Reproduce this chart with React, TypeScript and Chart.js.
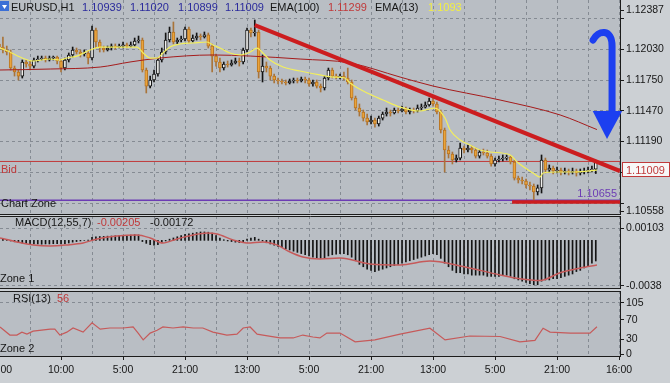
import React, { useEffect, useRef } from "react";
import { Chart, registerables } from "chart.js";

Chart.register(...registerables);

// ---------------- data ----------------
const SYMBOL = "EURUSD,H1";

const OPEN = [
  1.12078, 1.1205, 1.12023, 1.12005, 1.11859, 1.11823, 1.11786, 1.11914, 1.11896, 1.11877,
  1.11932, 1.11941, 1.1195, 1.11932, 1.1195, 1.11959, 1.11923, 1.11859, 1.11932, 1.11978,
  1.12023, 1.12005, 1.11987, 1.11996, 1.1195, 1.12205, 1.12096, 1.12041, 1.12023, 1.12041,
  1.12059, 1.1205, 1.12059, 1.12069, 1.12059, 1.12069, 1.12105, 1.12114, 1.11841, 1.11695,
  1.1175, 1.11805, 1.11932, 1.12005, 1.12114, 1.12187, 1.12096, 1.12114, 1.12123, 1.12214,
  1.12105, 1.12132, 1.1215, 1.12141, 1.1216, 1.12059, 1.11968, 1.11914, 1.11859, 1.11896,
  1.11887, 1.11905, 1.11923, 1.11914, 1.12023, 1.12205, 1.12178, 1.12187, 1.11823, 1.11877,
  1.11859, 1.11786, 1.1175, 1.11741, 1.11732, 1.11723, 1.11741, 1.1175, 1.11741, 1.11759,
  1.1175, 1.11714, 1.11732, 1.11695, 1.11677, 1.11768, 1.11841, 1.11786, 1.11777, 1.11786,
  1.11768, 1.11732, 1.11586, 1.11495, 1.11459, 1.11404, 1.11368, 1.11386, 1.1135, 1.11404,
  1.11441, 1.11459, 1.1145, 1.11477, 1.11468, 1.11486, 1.11459, 1.11477, 1.11468, 1.11495,
  1.11504, 1.11523, 1.11559, 1.11532, 1.11459, 1.11295, 1.11113, 1.11077, 1.11022, 1.1104,
  1.11131, 1.11113, 1.11131, 1.11113, 1.11058, 1.11095, 1.11086, 1.11058, 1.10986, 1.11022,
  1.11031, 1.1104, 1.11049, 1.11004, 1.10858, 1.1084, 1.10831, 1.10795, 1.10786, 1.10731,
  1.10768, 1.11022, 1.10931, 1.10949, 1.10922, 1.10931, 1.10913, 1.10922, 1.10913, 1.10922,
  1.10904, 1.10913, 1.10922, 1.10931, 1.10939,
];
const HIGH = [
  1.12132, 1.12141, 1.12059, 1.12023, 1.11877, 1.11841, 1.11932, 1.11932, 1.11923, 1.1195,
  1.11968, 1.11968, 1.11968, 1.11968, 1.11968, 1.11968, 1.11941, 1.1195, 1.11996, 1.1205,
  1.12041, 1.12023, 1.12023, 1.12014, 1.12241, 1.12223, 1.12114, 1.12059, 1.12059, 1.12078,
  1.12078, 1.12078, 1.12096, 1.12087, 1.12096, 1.12132, 1.1215, 1.12132, 1.11859, 1.11786,
  1.11841, 1.1195, 1.12041, 1.12178, 1.12232, 1.12278, 1.12132, 1.1215, 1.12232, 1.12232,
  1.1216, 1.12178, 1.12169, 1.12187, 1.12178, 1.12078, 1.11987, 1.1195, 1.11914, 1.11923,
  1.11932, 1.1195, 1.1195, 1.12041, 1.12223, 1.12223, 1.12296, 1.12205, 1.11978, 1.11914,
  1.11877, 1.11805, 1.11768, 1.11759, 1.1175, 1.11759, 1.11768, 1.11768, 1.11777, 1.11777,
  1.11768, 1.1175, 1.1175, 1.11714, 1.11786, 1.11859, 1.11859, 1.11805, 1.11805, 1.11823,
  1.11859, 1.1175, 1.11604, 1.11532, 1.11477, 1.11441, 1.11422, 1.11404, 1.11422, 1.11459,
  1.11495, 1.11477, 1.11495, 1.11495, 1.11513, 1.11504, 1.11495, 1.11495, 1.11523, 1.11532,
  1.1155, 1.11586, 1.11595, 1.1155, 1.11477, 1.11313, 1.11149, 1.11095, 1.11068, 1.11177,
  1.11149, 1.11159, 1.11149, 1.11131, 1.11113, 1.11122, 1.11113, 1.11077, 1.1104, 1.11058,
  1.11068, 1.11068, 1.11058, 1.11022, 1.10876, 1.10867, 1.10849, 1.10822, 1.10804, 1.10795,
  1.11068, 1.1104, 1.10977, 1.10967, 1.10958, 1.10949, 1.10949, 1.1094, 1.10949, 1.1094,
  1.1094, 1.10949, 1.10958, 1.10967, 1.1102,
];
const LOW = [
  1.12023, 1.11996, 1.11978, 1.11841, 1.11786, 1.1175, 1.11768, 1.11868, 1.11841, 1.11859,
  1.11914, 1.11932, 1.11914, 1.11923, 1.11932, 1.11896, 1.11823, 1.11841, 1.11914, 1.11959,
  1.11987, 1.11959, 1.11968, 1.11896, 1.11932, 1.12041, 1.12005, 1.12005, 1.12014, 1.12023,
  1.12032, 1.12041, 1.12041, 1.12041, 1.1205, 1.12059, 1.12087, 1.11823, 1.11632, 1.11677,
  1.11732, 1.11786, 1.11914, 1.11987, 1.12096, 1.12078, 1.12078, 1.12096, 1.12105, 1.12087,
  1.12096, 1.12114, 1.12114, 1.12132, 1.12041, 1.11823, 1.11877, 1.11823, 1.11841, 1.11868,
  1.11877, 1.11896, 1.11877, 1.11896, 1.12005, 1.12141, 1.1215, 1.11768, 1.11732, 1.11823,
  1.1175, 1.11723, 1.11714, 1.11714, 1.11705, 1.11714, 1.11723, 1.11723, 1.11732, 1.11723,
  1.11695, 1.11695, 1.11677, 1.11641, 1.11659, 1.1175, 1.11768, 1.11759, 1.11759, 1.1175,
  1.11714, 1.11568, 1.11477, 1.11422, 1.11377, 1.11341, 1.1135, 1.11322, 1.11331, 1.11386,
  1.11422, 1.11422, 1.11441, 1.1145, 1.11459, 1.11441, 1.11441, 1.1145, 1.11459, 1.11477,
  1.11495, 1.11513, 1.11513, 1.11441, 1.11268, 1.10913, 1.1104, 1.10986, 1.11004, 1.11022,
  1.11086, 1.11095, 1.11086, 1.1104, 1.1104, 1.11068, 1.1104, 1.10967, 1.10967, 1.11004,
  1.11013, 1.11022, 1.10986, 1.1084, 1.10813, 1.10804, 1.10768, 1.1075, 1.10658, 1.10704,
  1.10722, 1.10904, 1.10913, 1.10895, 1.10904, 1.10886, 1.10895, 1.10886, 1.10895, 1.10876,
  1.10886, 1.10895, 1.10904, 1.10913, 1.10899,
];
const CLOSE = [
  1.1205, 1.12023, 1.12005, 1.11859, 1.11823, 1.11786, 1.11914, 1.11896, 1.11877, 1.11932,
  1.11941, 1.1195, 1.11932, 1.1195, 1.11959, 1.11923, 1.11859, 1.11932, 1.11978, 1.12023,
  1.12005, 1.11987, 1.11996, 1.1195, 1.12205, 1.12096, 1.12041, 1.12023, 1.12041, 1.12059,
  1.1205, 1.12059, 1.12069, 1.12059, 1.12069, 1.12105, 1.12114, 1.11841, 1.11695, 1.1175,
  1.11805, 1.11932, 1.12005, 1.12114, 1.12187, 1.12096, 1.12114, 1.12123, 1.12214, 1.12105,
  1.12132, 1.1215, 1.12141, 1.1216, 1.12059, 1.11968, 1.11914, 1.11859, 1.11896, 1.11887,
  1.11905, 1.11923, 1.11914, 1.12023, 1.12205, 1.12178, 1.12187, 1.11823, 1.11877, 1.11859,
  1.11786, 1.1175, 1.11741, 1.11732, 1.11723, 1.11741, 1.1175, 1.11741, 1.11759, 1.1175,
  1.11714, 1.11732, 1.11695, 1.11677, 1.11768, 1.11841, 1.11786, 1.11777, 1.11786, 1.11768,
  1.11732, 1.11586, 1.11495, 1.11459, 1.11404, 1.11368, 1.11386, 1.1135, 1.11404, 1.11441,
  1.11459, 1.1145, 1.11477, 1.11468, 1.11486, 1.11459, 1.11477, 1.11468, 1.11495, 1.11504,
  1.11523, 1.11559, 1.11532, 1.11459, 1.11295, 1.11113, 1.11077, 1.11022, 1.1104, 1.11131,
  1.11113, 1.11131, 1.11113, 1.11058, 1.11095, 1.11086, 1.11058, 1.10986, 1.11022, 1.11031,
  1.1104, 1.11049, 1.11004, 1.10858, 1.1084, 1.10831, 1.10795, 1.10786, 1.10731, 1.10768,
  1.11022, 1.10931, 1.10949, 1.10922, 1.10931, 1.10913, 1.10922, 1.10913, 1.10922, 1.10904,
  1.10913, 1.10922, 1.10931, 1.1094, 1.11009,
];

// indicator readings: [candle position, value]
const EMA13: [number, number][] = [
  [0.25, 1.12041], [2.8, 1.12005], [5.4, 1.11959], [8.8, 1.11923], [13.2, 1.11941], [15.7, 1.11932],
  [17.5, 1.1195], [20.1, 1.11968], [23.5, 1.12023], [26.1, 1.1205], [32.5, 1.1205], [35.6, 1.1205],
  [37.2, 1.11996], [39, 1.1195], [40.8, 1.1195], [42.3, 1.11996], [44.1, 1.1205], [46.7, 1.12078],
  [50.1, 1.12087], [53.7, 1.12096], [55.2, 1.12069], [57, 1.12041], [59.6, 1.11996], [62.2, 1.11978],
  [64.8, 1.12005], [66.6, 1.12041], [68.1, 1.11996], [69.9, 1.11932], [73.3, 1.11868], [77.7, 1.11832],
  [82.8, 1.11796], [86.2, 1.11777], [89.3, 1.11768], [90.6, 1.11723], [95, 1.11632], [99.1, 1.11568],
  [103.5, 1.11504], [108.6, 1.11468], [112.5, 1.11495], [115.1, 1.11404], [116.4, 1.11295], [119, 1.11204],
  [121.5, 1.11159], [124.1, 1.11113], [126.7, 1.11095], [131.9, 1.11068], [133.7, 1.11004], [137.8, 1.10904],
  [139.6, 1.10867], [140.4, 1.10904], [144, 1.10913], [148.6, 1.10913], [154.3, 1.1093],
];
const EMA100: [number, number][] = [
  [0.25, 1.11841], [13.2, 1.1185], [26.1, 1.11868], [33.8, 1.11914], [41.5, 1.1195], [55.2, 1.11978],
  [64.8, 1.11968], [77.7, 1.11941], [90.6, 1.11905], [103.5, 1.11777], [112, 1.11695], [129.3, 1.11568],
  [144.8, 1.11432], [154.3, 1.11299],
];
const MACD_HIST = [
  0.00012, 0.00008, 0.00004, -0.00005, -0.00012, -0.00018, -0.00022, -0.00025, -0.00028, -0.0003,
  -0.0003, -0.00032, -0.0003, -0.0003, -0.00028, -0.00027, -0.0003, -0.00028, -0.00022, -0.00015,
  -0.0001, -0.00005, 0, 0.00003, 0.00025, 0.0003, 0.00032, 0.00033, 0.00035, 0.00036,
  0.00038, 0.0004, 0.0004, 0.00042, 0.00044, 0.00047, 0.00045, -0.0001, -0.00025, -0.00035,
  -0.0004, -0.00035, -0.0002, -0.00005, 0.0001, 0.0002, 0.0003, 0.0004, 0.0005, 0.00055,
  0.0006, 0.00065, 0.0007, 0.0007, 0.00068, 0.0006, 0.0004, 0.0002, 0.00005, -0.00005,
  -0.0001, -0.00015, -0.00018, -0.0001, 0.0001, 0.0002, 0.00025, 0.0001, -0.00005, -0.0002,
  -0.0003, -0.0004, -0.0005, -0.0006, -0.0007, -0.0008, -0.0009, -0.001, -0.0011, -0.0012,
  -0.0013, -0.0014, -0.00145, -0.0015, -0.00145, -0.0013, -0.0012, -0.00115, -0.0011, -0.0011,
  -0.0012, -0.0014, -0.0017, -0.002, -0.0022, -0.0024, -0.0025, -0.0026, -0.0025, -0.0024,
  -0.0023, -0.0022, -0.0021, -0.002, -0.0019, -0.0018, -0.0017, -0.0016, -0.0015, -0.0014,
  -0.0013, -0.0012, -0.0011, -0.0012, -0.0015, -0.0019, -0.0022, -0.0025, -0.0027, -0.0027,
  -0.0028, -0.0028, -0.0029, -0.0029, -0.0029, -0.0029, -0.003, -0.003, -0.003, -0.003,
  -0.0029, -0.0029, -0.003, -0.0032, -0.0033, -0.0034, -0.0035, -0.0036, -0.0037, -0.0037,
  -0.0034, -0.0033, -0.0033, -0.0032, -0.0032, -0.0031, -0.003, -0.0029, -0.0028, -0.0026,
  -0.0025, -0.0023, -0.0021, -0.0019, -0.00172,
];
const MACD_LINE: [number, number][] = [
  [0.25, 0.0002], [4.6, -0.00013], [8.8, -0.00038], [13.2, -0.00047], [17.5, -0.00038], [21.7, -0.00022],
  [25.3, 0.00012], [30.4, 0.00037], [35.6, 0.00045], [39, 0.0002], [42.3, -0.00022], [45.9, 0.00012],
  [50.1, 0.00045], [53.7, 0.00062], [56.3, 0.00053], [60.4, 0.00003], [64, -0.00022], [68.1, -0.00013],
  [71.7, -0.00038], [75.1, -0.00097], [78.4, -0.00138], [82.8, -0.00155], [88, -0.00147], [95.7, -0.00197],
  [103.5, -0.00205], [111.2, -0.00172], [119, -0.00213], [129.3, -0.00288], [134.4, -0.0032], [139.6, -0.00335],
  [144.8, -0.0027], [150, -0.0023], [154.3, -0.00205],
];
const RSI: [number, number][] = [
  [0.25, 55.6], [2.8, 39], [4.6, 39], [5.9, 45], [7.2, 41], [8.8, 47], [13.2, 51], [14.4, 51], [15.7, 39],
  [17.5, 45], [19.1, 53.5], [21.7, 45], [24, 64], [26.1, 51], [28.6, 53.5], [32, 53.5], [34.6, 55.6],
  [35.9, 43], [37.2, 29], [39, 43], [40.8, 49], [42.3, 55.6], [44.9, 53.5], [47.5, 55.6], [50.1, 53.5],
  [52.6, 53.5], [55.2, 45], [58.8, 39], [61.4, 41], [63, 53.5], [64.8, 55.6], [66.6, 41], [68.1, 39],
  [72.5, 33], [75.9, 33], [78.4, 39], [81, 35], [82.8, 33], [84.6, 43], [88, 43], [91.9, 25], [97, 29],
  [103.5, 41], [111.2, 53], [115.1, 29], [121.5, 37], [129.3, 36], [134.4, 25], [138.3, 28], [140.4, 53],
  [142.2, 45], [147.4, 43], [152.5, 43], [154.3, 56],
];

const BID = 1.11009;
const ZONE_LEVEL = 1.10655;
const TRENDLINE: [number, number][] = [[66, 1.1225], [160.25, 1.10922]];
const SUPPORT: [number, number][] = [[132.4, 1.1064], [160.25, 1.1064]];

const X_LABELS = ["18:00", "10:00", "5:00", "21:00", "13:00", "5:00", "21:00", "13:00", "5:00", "21:00", "16:00"];
const PRICE_TICKS = [1.12387, 1.1231, 1.1203, 1.1175, 1.1147, 1.1119, 1.1091, 1.1063, 1.10558];
const PRICE_LABELS = ["1.12387", "", "1.12030", "1.11750", "1.11470", "1.11190", "", "", "1.10558"];
const PRICE_GRID = [1.1231, 1.1203, 1.1175, 1.1147, 1.1119, 1.1091, 1.1063];
const MACD_TICKS = [0.00103, -0.0038];
const MACD_LABELS = ["0.00103", "-0.0038"];
const RSI_TICKS = [105, 70, 30, 0];
const RSI_LABELS = ["105", "70", "30", "0"];
const RSI_GRID = [105];

// arrow annotation in (candle position, price)
const ARROW_STROKE: [number, number][] = [[153.3, 1.12114], [154.6, 1.12205], [158.2, 1.12223], [158.2, 1.12059], [158.2, 1.11459]];
const ARROW_HEAD: [number, number][] = [[153.2, 1.11468], [160.8, 1.11468], [156.9, 1.11213]];

// ---------------- layout / style ----------------
const X_MIN = 0.25;
const X_MAX = 160.25;
const X_GRID_STEP = 8;
const X_LABEL_STEP = 16;
const FONT = '"Liberation Sans", Arial, sans-serif';
const PAGE_BG = "#ccd0d4";
const PLOT_BG = "#b9bec4";
const GRID = "#858b93";
const FRAME = "#1c1c1c";
const TEXT = "#161616";
const BLUE_TXT = "#2a2a9c";
const RED_TXT = "#c0393a";
const BID_COLOR = "#c0393a";
const ZONE_COLOR = "#6c3cb4";

Chart.defaults.font.family = FONT;

const xy = (pts: [number, number][]) => pts.map(([x, y]) => ({ x, y }));

function xAxis(labels: boolean) {
  return {
    type: "linear",
    min: X_MIN,
    max: X_MAX,
    offset: false,
    afterBuildTicks: (s: any) => {
      const t: any[] = [];
      for (let v = 0; v <= X_MAX; v += X_GRID_STEP) t.push({ value: v });
      s.ticks = t;
    },
    afterFit: (s: any) => {
      s.height = labels ? 27 : 0;
      s.paddingLeft = 0;
      s.paddingRight = 0;
    },
    grid: {
      color: GRID,
      lineWidth: 1,
      offset: false,
      drawTicks: labels,
      tickLength: 4,
      tickColor: (c: any) => (c.tick && c.tick.value % X_LABEL_STEP === 0 ? FRAME : "transparent"),
    },
    border: { display: false, dash: [3, 3] },
    ticks: {
      display: labels,
      autoSkip: false,
      maxRotation: 0,
      minRotation: 0,
      padding: 4,
      color: TEXT,
      font: { size: 10.5 },
      callback: (v: number) => (v % X_LABEL_STEP === 0 ? X_LABELS[v / X_LABEL_STEP] : ""),
    },
  };
}

function yAxis(min: number, max: number, ticks: number[], labels: string[], gridVals: number[]) {
  return {
    type: "linear",
    position: "right",
    min,
    max,
    afterBuildTicks: (s: any) => {
      s.ticks = ticks.map((v) => ({ value: v }));
    },
    afterFit: (s: any) => {
      s.width = 50;
      s.paddingTop = 0;
      s.paddingBottom = 0;
    },
    grid: {
      color: (c: any) => (c.tick && gridVals.includes(c.tick.value) ? GRID : "transparent"),
      drawTicks: true,
      tickLength: 4,
      tickColor: FRAME,
    },
    border: { display: false, dash: [3, 3] },
    ticks: {
      autoSkip: false,
      padding: 2,
      color: TEXT,
      font: { size: 10.5 },
      callback: (v: number) => {
        const k = ticks.indexOf(v);
        return k >= 0 ? labels[k] : "";
      },
    },
  };
}

type Txt = { t: string; x: number; y: number; c: string };

function panelPlugin(top: boolean, texts: Txt[], extra?: (chart: any) => void) {
  return {
    id: "panel",
    beforeDraw(chart: any) {
      const { ctx, chartArea: a } = chart;
      ctx.save();
      ctx.fillStyle = PLOT_BG;
      ctx.fillRect(a.left, a.top, a.right - a.left, a.bottom - a.top);
      ctx.restore();
    },
    afterDraw(chart: any) {
      const { ctx, chartArea: a } = chart;
      ctx.save();
      ctx.strokeStyle = FRAME;
      ctx.lineWidth = 1;
      ctx.beginPath();
      if (top) {
        ctx.moveTo(a.left, a.top + 0.5);
        ctx.lineTo(a.right + 1, a.top + 0.5);
      }
      ctx.moveTo(a.left, a.bottom + 0.5);
      ctx.lineTo(a.right + 1, a.bottom + 0.5);
      ctx.moveTo(a.right + 0.5, a.top);
      ctx.lineTo(a.right + 0.5, a.bottom + 1);
      ctx.stroke();
      ctx.font = `11px ${FONT}`;
      ctx.textBaseline = "alphabetic";
      ctx.textAlign = "left";
      texts.forEach((t) => {
        ctx.fillStyle = t.c;
        ctx.fillText(t.t, t.x, t.y);
      });
      if (extra) extra(chart);
      ctx.restore();
    },
  };
}

const last = CLOSE.length - 1;
const candleIdx = CLOSE.map((_, i) => i);
const isBull = (i: number) => CLOSE[i] >= OPEN[i];

function drawMainExtras(chart: any) {
  const { ctx, chartArea: a, scales } = chart;
  const px = (v: number) => scales.x.getPixelForValue(v);
  const py = (v: number) => scales.y.getPixelForValue(v);
  ctx.font = `11px ${FONT}`;
  // Bid label and price box
  const by = Math.round(py(BID));
  ctx.fillStyle = BID_COLOR;
  ctx.fillText("Bid", 1, by + 12);
  ctx.fillStyle = "#f7f7f7";
  ctx.fillRect(a.right + 2, by + 1, 48, 15);
  ctx.strokeStyle = BID_COLOR;
  ctx.lineWidth = 1;
  ctx.strokeRect(a.right + 2.5, by + 1.5, 47, 14);
  ctx.fillStyle = BID_COLOR;
  ctx.fillText(BID.toFixed(5), a.right + 6, by + 13);
  // zone labels
  const zy = Math.round(py(ZONE_LEVEL));
  ctx.fillStyle = TEXT;
  ctx.fillText("Chart Zone", 1, zy + 7);
  ctx.fillStyle = ZONE_COLOR;
  ctx.textAlign = "right";
  ctx.fillText(ZONE_LEVEL.toFixed(5), a.right - 3, zy - 3);
  ctx.textAlign = "left";
  // header
  ctx.fillStyle = "#3b6fd6";
  ctx.fillRect(0, 1, 9, 10);
  ctx.fillStyle = "#ffffff";
  ctx.beginPath();
  ctx.moveTo(2, 5);
  ctx.lineTo(7, 5);
  ctx.lineTo(4.5, 9);
  ctx.closePath();
  ctx.fill();
  const header: Txt[] = [
    { t: SYMBOL, x: 11, y: 11, c: TEXT },
    { t: OPEN[last].toFixed(5), x: 82, y: 11, c: BLUE_TXT },
    { t: HIGH[last].toFixed(5), x: 130, y: 11, c: BLUE_TXT },
    { t: LOW[last].toFixed(5), x: 178, y: 11, c: BLUE_TXT },
    { t: CLOSE[last].toFixed(5), x: 225, y: 11, c: BLUE_TXT },
    { t: "EMA(100)", x: 270, y: 11, c: TEXT },
    { t: String(EMA100[EMA100.length - 1][1]), x: 328, y: 11, c: RED_TXT },
    { t: "EMA(13)", x: 375, y: 11, c: TEXT },
    { t: String(EMA13[EMA13.length - 1][1]), x: 428, y: 11, c: "#f2ee44" },
  ];
  header.forEach((h) => {
    ctx.fillStyle = h.c;
    ctx.fillText(h.t, h.x, h.y);
  });
  // blue arrow
  const P = ARROW_STROKE.map(([i, p]) => [px(i), py(p)]);
  ctx.strokeStyle = "#1c3ff0";
  ctx.fillStyle = "#1c3ff0";
  ctx.lineWidth = 7;
  ctx.lineCap = "round";
  ctx.lineJoin = "round";
  ctx.beginPath();
  ctx.moveTo(P[0][0], P[0][1]);
  ctx.bezierCurveTo(P[1][0], P[1][1], P[2][0], P[2][1], P[3][0], P[3][1]);
  ctx.lineTo(P[4][0], P[4][1]);
  ctx.stroke();
  const H = ARROW_HEAD.map(([i, p]) => [px(i), py(p)]);
  ctx.beginPath();
  ctx.moveTo(H[0][0], H[0][1]);
  ctx.lineTo(H[1][0], H[1][1]);
  ctx.lineTo(H[2][0], H[2][1]);
  ctx.closePath();
  ctx.fill();
}

const common = {
  responsive: false,
  animation: false,
  devicePixelRatio: 1,
  events: [],
};

function mainConfig(): any {
  return {
    type: "bar",
    data: {
      datasets: [
        { type: "line", data: xy(TRENDLINE), borderColor: "#cc1d1f", borderWidth: 4, pointRadius: 0, order: 0 },
        { type: "line", data: xy(SUPPORT), borderColor: "#cc1d1f", borderWidth: 3.5, pointRadius: 0, order: 0 },
        { type: "line", data: xy(EMA13), borderColor: "#f3ef5c", borderWidth: 1.2, pointRadius: 0, cubicInterpolationMode: "monotone", order: 1 },
        { type: "line", data: xy(EMA100), borderColor: "#a51c1c", borderWidth: 1, pointRadius: 0, cubicInterpolationMode: "monotone", order: 1 },
        { type: "line", data: [{ x: X_MIN, y: BID }, { x: X_MAX, y: BID }], borderColor: BID_COLOR, borderWidth: 1, pointRadius: 0, order: 5 },
        { type: "line", data: [{ x: X_MIN, y: ZONE_LEVEL }, { x: X_MAX, y: ZONE_LEVEL }], borderColor: ZONE_COLOR, borderWidth: 1.5, pointRadius: 0, order: 5 },
        {
          type: "bar",
          data: candleIdx.map((i) => ({ x: i, y: [LOW[i], HIGH[i]] })),
          backgroundColor: candleIdx.map((i) => (isBull(i) ? "#141414" : "#a9743a")),
          barThickness: 1,
          grouped: false,
          order: 3,
        },
        {
          type: "bar",
          data: candleIdx.map((i) => ({ x: i, y: [OPEN[i], CLOSE[i]] })),
          backgroundColor: candleIdx.map((i) => (isBull(i) ? "#f0f0ee" : "#e9a43c")),
          borderColor: candleIdx.map((i) => (isBull(i) ? "#141414" : "#b97522")),
          borderWidth: 1,
          borderSkipped: false,
          barThickness: 3,
          minBarLength: 1,
          grouped: false,
          order: 2,
        },
      ],
    },
    options: {
      ...common,
      layout: { padding: { left: 0, right: 0, top: 0, bottom: 1 }, autoPadding: false },
      plugins: { legend: { display: false }, tooltip: { enabled: false } },
      scales: {
        x: xAxis(false),
        y: yAxis(1.10531, 1.12478, PRICE_TICKS, PRICE_LABELS, PRICE_GRID),
      },
    },
    plugins: [panelPlugin(false, [], drawMainExtras)],
  };
}

function macdConfig(): any {
  const lastLine = MACD_LINE[MACD_LINE.length - 1][1];
  const lastHist = MACD_HIST[MACD_HIST.length - 1];
  return {
    type: "bar",
    data: {
      datasets: [
        { type: "line", data: xy(MACD_LINE), borderColor: "#c65a5a", borderWidth: 1.5, pointRadius: 0, cubicInterpolationMode: "monotone", order: 0 },
        {
          type: "bar",
          data: MACD_HIST.map((v, i) => ({ x: i, y: v })),
          backgroundColor: "#141414",
          barThickness: 1,
          grouped: false,
          order: 1,
        },
      ],
    },
    options: {
      ...common,
      layout: { padding: { left: 0, right: 0, top: 0, bottom: 1 }, autoPadding: false },
      plugins: { legend: { display: false }, tooltip: { enabled: false } },
      scales: {
        x: xAxis(false),
        y: yAxis(-0.00397, 0.00203, MACD_TICKS, MACD_LABELS, MACD_TICKS),
      },
    },
    plugins: [
      panelPlugin(true, [
        { t: "MACD(12,55,7)", x: 15, y: 10, c: TEXT },
        { t: lastLine.toFixed(5), x: 97, y: 10, c: RED_TXT },
        { t: lastHist.toFixed(5), x: 150, y: 10, c: TEXT },
        { t: "Zone 1", x: 0, y: 66, c: TEXT },
      ]),
    ],
  };
}

function rsiConfig(): any {
  return {
    type: "line",
    data: {
      datasets: [
        { data: xy(RSI), borderColor: "#c65a5a", borderWidth: 1.2, pointRadius: 0, tension: 0 },
      ],
    },
    options: {
      ...common,
      layout: { padding: { left: 0, right: 0, top: 1, bottom: 0 }, autoPadding: false },
      plugins: { legend: { display: false }, tooltip: { enabled: false } },
      scales: {
        x: xAxis(true),
        y: yAxis(-4.1, 129.6, RSI_TICKS, RSI_LABELS, RSI_GRID),
      },
    },
    plugins: [
      panelPlugin(true, [
        { t: "RSI(13)", x: 13, y: 12, c: TEXT },
        { t: String(Math.round(RSI[RSI.length - 1][1])), x: 57, y: 12, c: RED_TXT },
        { t: "Zone 2", x: 0, y: 62, c: TEXT },
      ]),
    ],
  };
}

export default function App() {
  const c1 = useRef<HTMLCanvasElement>(null);
  const c2 = useRef<HTMLCanvasElement>(null);
  const c3 = useRef<HTMLCanvasElement>(null);

  useEffect(() => {
    const charts = [
      new Chart(c1.current as HTMLCanvasElement, mainConfig()),
      new Chart(c2.current as HTMLCanvasElement, macdConfig()),
      new Chart(c3.current as HTMLCanvasElement, rsiConfig()),
    ];
    return () => charts.forEach((c) => c.destroy());
  }, []);

  return (
    <div style={{ position: "fixed", left: 0, top: 0, width: 670, height: 383, background: PAGE_BG, overflow: "hidden" }}>
      <canvas ref={c1} width={670} height={215} style={{ position: "absolute", left: 0, top: 0 }} />
      <canvas ref={c2} width={670} height={73} style={{ position: "absolute", left: 0, top: 216 }} />
      <canvas ref={c3} width={670} height={93} style={{ position: "absolute", left: 0, top: 290 }} />
    </div>
  );
}
